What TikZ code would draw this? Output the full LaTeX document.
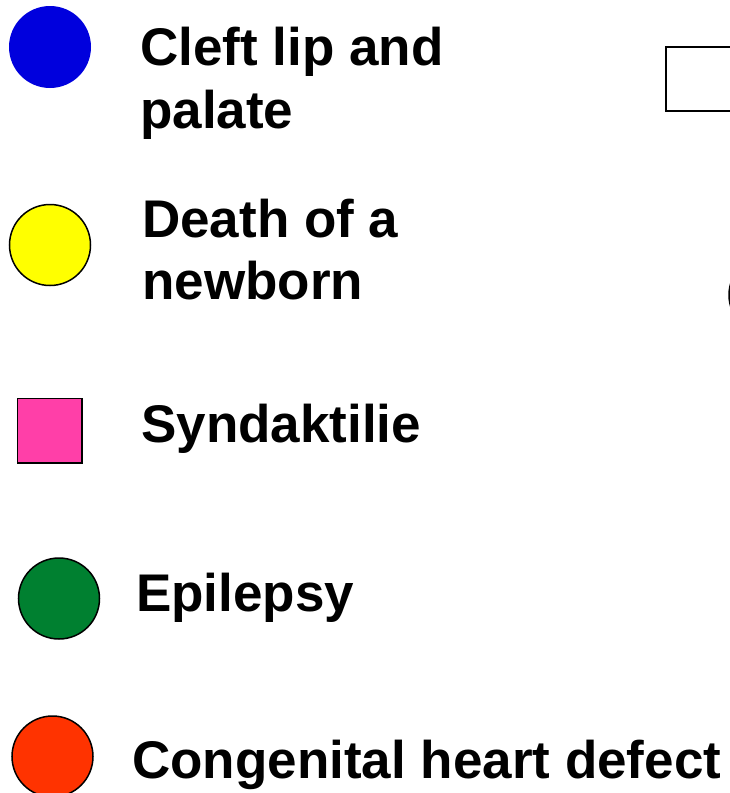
\documentclass[tikz,border=0pt]{standalone}
\usepackage{fontspec}
\setmainfont{Liberation Sans}
\definecolor{cblue}{HTML}{0000DD}
\definecolor{cyellow}{HTML}{FFFF00}
\definecolor{cpink}{HTML}{FF3FA8}
\definecolor{cgreen}{HTML}{008030}
\definecolor{cred}{HTML}{FF3300}
\begin{document}
\begin{tikzpicture}[x=1pt,y=-1pt,
  lbl/.style={anchor=base west,inner sep=0pt,font=\fontsize{53}{63}\selectfont\bfseries},
  sym/.style={draw=black,line width=1.5pt}]
\useasboundingbox (0,0) rectangle (730,793);
\clip (0,0) rectangle (730,793);
% symbols
\fill[cblue] (50,47) circle (41);
\draw[sym,fill=cyellow] (50,245) circle (40.5);
\draw[sym,fill=cpink] (17.5,398.5) rectangle (82,463);
\draw[sym,fill=cgreen] (59,598.5) circle (40.5);
\draw[sym,fill=cred] (52.5,756.5) circle (40.5);
% right partial shapes
\draw[draw=black,line width=2pt,fill=white] (666,47) rectangle (740,111);
\draw[sym] (769.5,295) circle (40.5);
% labels
\node[lbl] (t1a) at (140,65) {Cleft lip and};
\node[lbl] (t1b) at (140,128) {palate};
\node[lbl] (t2a) at (142,237) {Death of a};
\node[lbl] (t2b) at (142,299) {newborn};
\node[lbl] (t3) at (141,442) {Syndaktilie};
\node[lbl] (t4) at (136,611) {Epilepsy};
\node[lbl] (t5) at (132,778) {Congenital heart defect};
\end{tikzpicture}
\end{document}
